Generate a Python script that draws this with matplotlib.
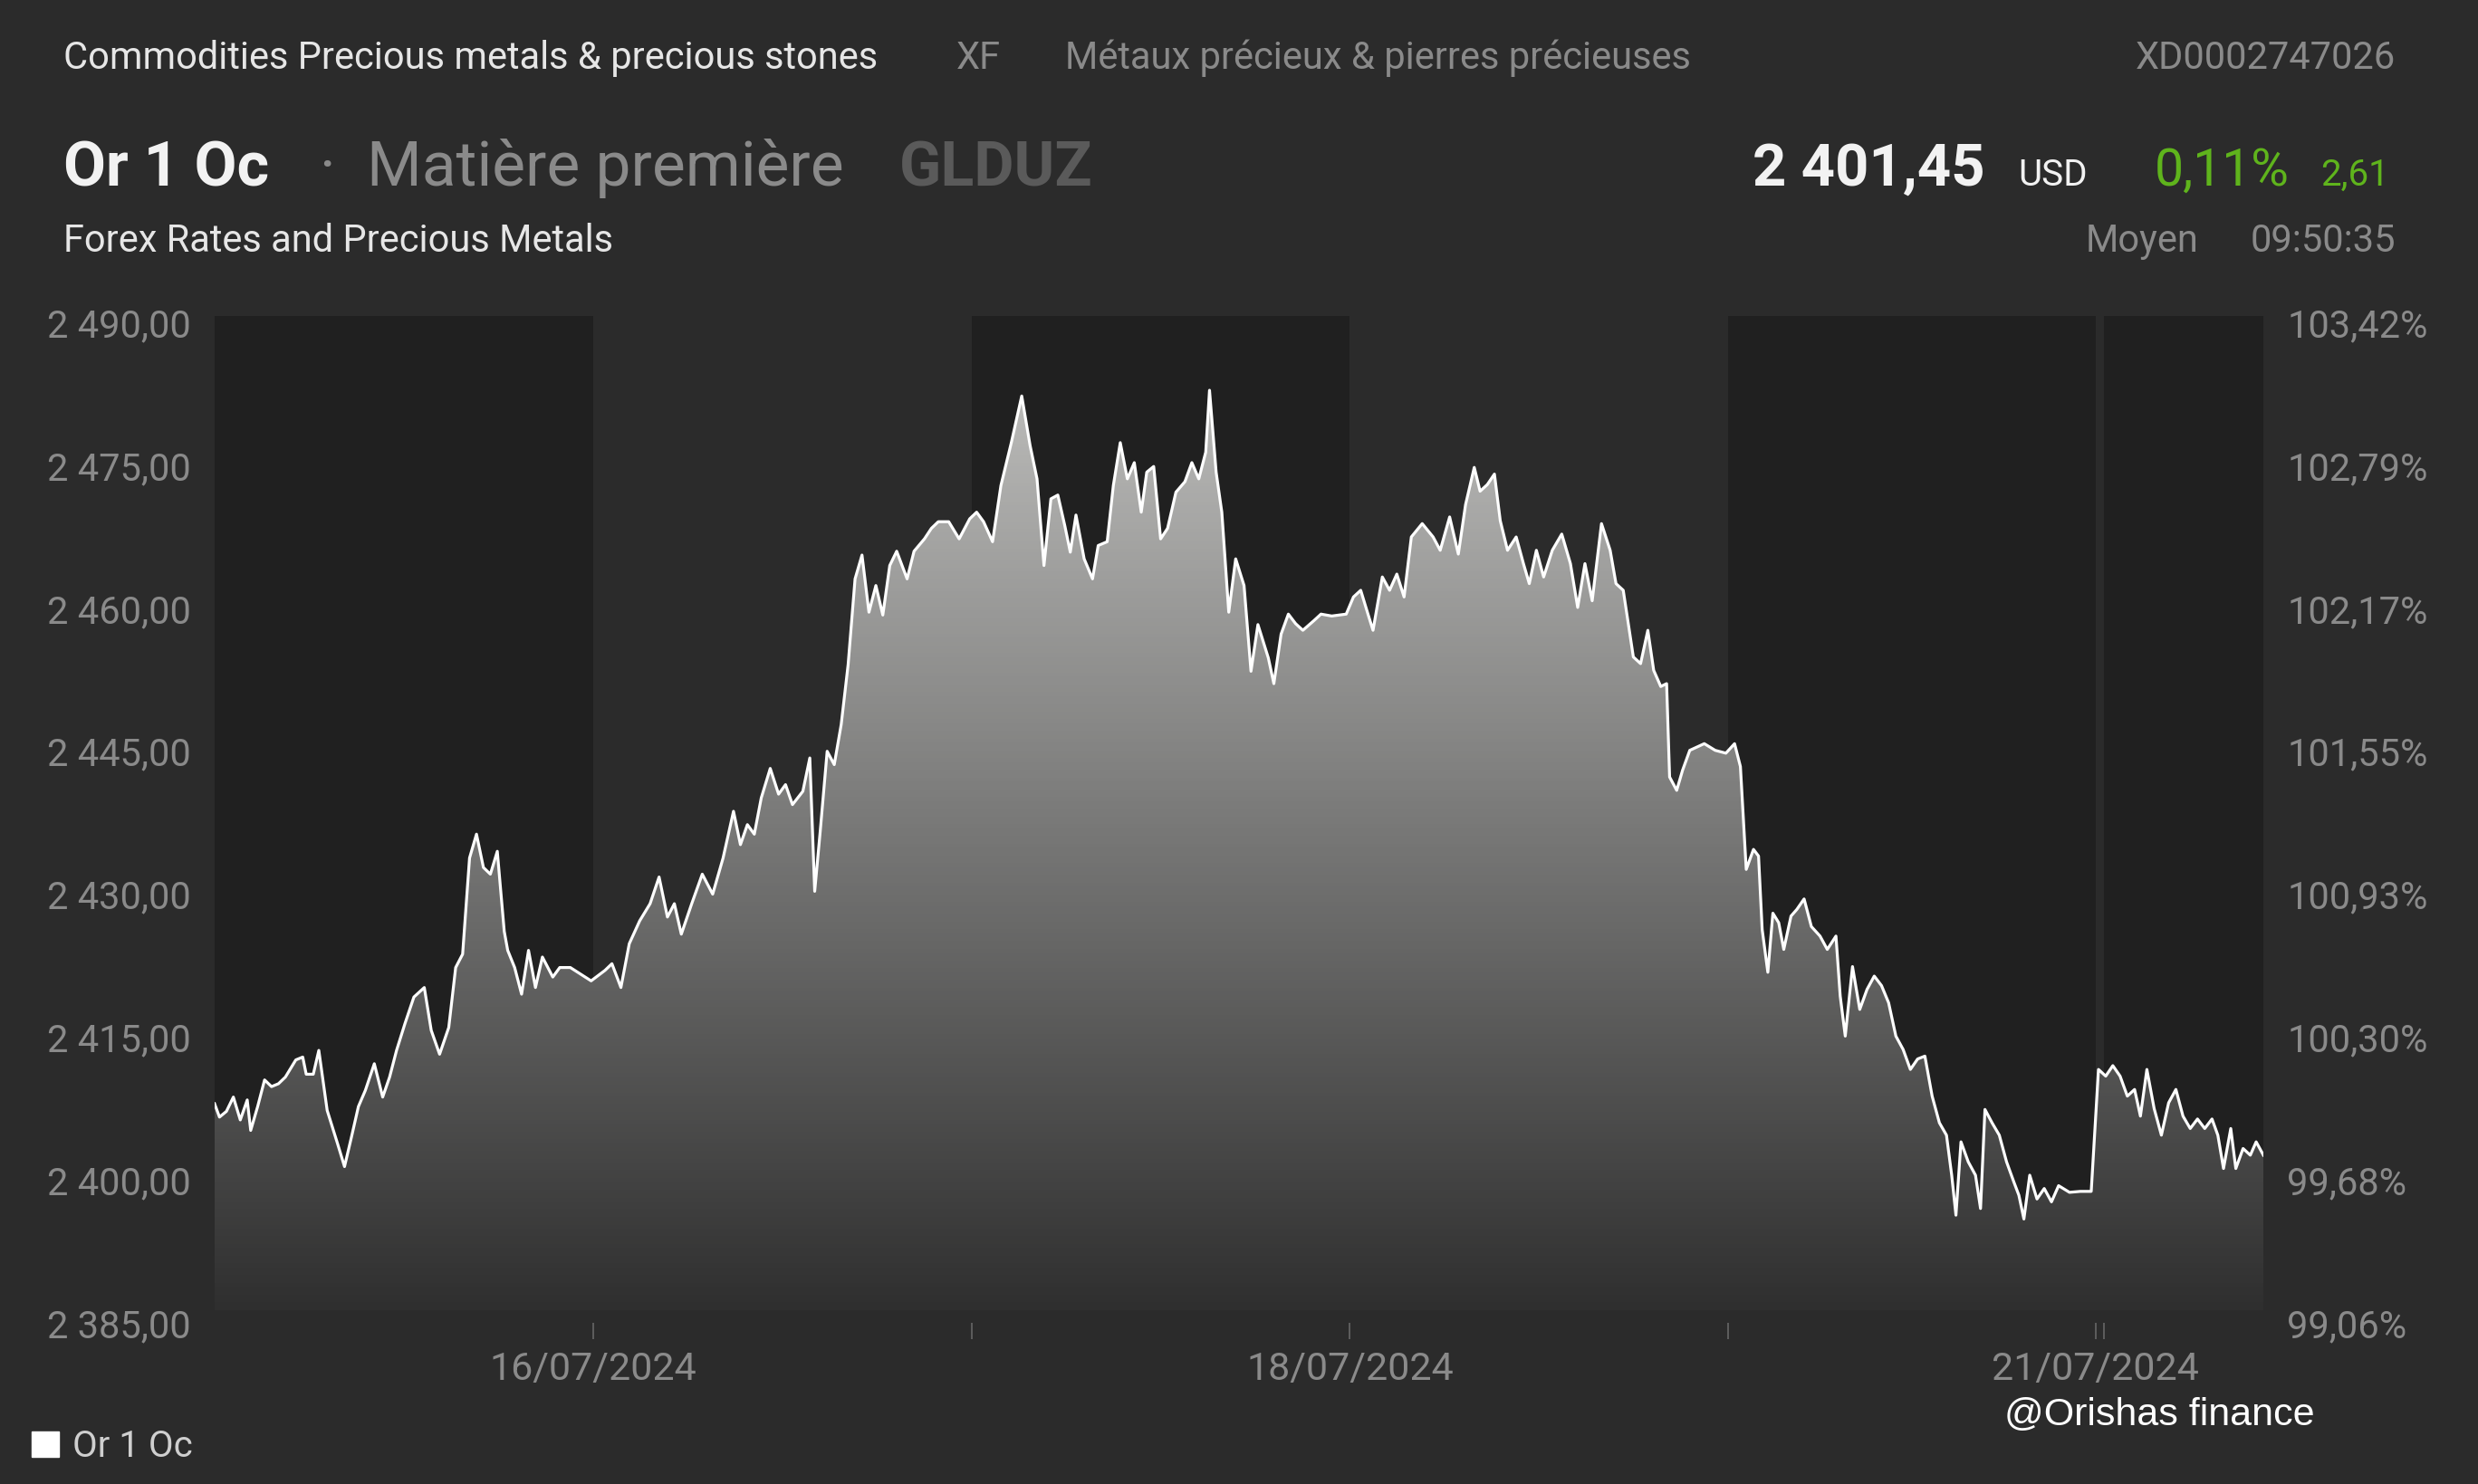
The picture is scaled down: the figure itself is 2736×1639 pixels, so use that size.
import numpy as np
import matplotlib.pyplot as plt
from matplotlib.colors import LinearSegmentedColormap
from matplotlib.patches import Rectangle

plt.rcParams['font.family'] = ['Roboto', 'DejaVu Sans']

# données : heures de cotation depuis le 15/07/2024 00:00 (week-end compressé)
hours = [0.00, 0.31, 0.75, 1.19, 1.63, 2.07, 2.29, 2.73, 3.17, 3.61, 4.05, 4.49, 5.15, 5.59, 5.81,
         6.26, 6.61, 7.14, 7.80, 8.24, 8.68, 9.12, 9.56, 10.13, 10.66, 11.10, 11.54, 12.07, 12.64,
         13.30, 13.74, 14.27, 14.85, 15.29, 15.73, 16.17, 16.61, 17.05, 17.49, 17.93, 18.37, 18.59,
         19.03, 19.47, 19.91, 20.35, 20.79, 21.45, 21.89, 22.56, 23.22, 23.88, 24.76, 25.20, 25.77,
         26.30, 26.96, 27.62, 28.19, 28.72, 29.16, 29.60, 30.26, 30.93, 31.59, 32.25, 32.91, 33.35,
         33.79, 34.23, 34.67, 35.24, 35.77, 36.21, 36.65, 37.31, 37.75, 38.06, 38.41, 38.85, 39.30,
         39.74, 40.18, 40.62, 41.06, 41.50, 41.94, 42.38, 42.82, 43.26, 43.92, 44.36, 45.02, 45.46,
         45.90, 46.56, 47.22, 47.89, 48.33, 48.77, 49.34, 49.87, 50.53, 51.19, 51.72, 52.16, 52.60,
         53.04, 53.48, 53.92, 54.27, 54.63, 55.15, 55.68, 56.04, 56.61, 57.00, 57.44, 57.89, 58.33,
         58.77, 59.12, 59.56, 60.00, 60.44, 60.97, 61.54, 61.98, 62.42, 62.86, 63.10, 63.52, 63.88,
         64.32, 64.76, 65.29, 65.73, 66.17, 66.83,
         67.18, 67.64, 68.10, 68.56, 69.02, 69.71, 70.17, 70.85, 71.77, 72.23, 72.69, 73.15, 73.47,
         74.06, 74.52, 74.98, 75.44, 75.90, 76.59, 77.28, 77.73, 78.33, 78.88, 79.34, 79.89, 80.26,
         80.72, 81.17, 81.54, 82.00, 82.55, 83.01, 83.38, 83.83, 84.29, 84.84, 85.44, 85.99, 86.45,
         86.91, 87.37, 87.96, 88.51, 88.88, 89.34, 89.98, 90.44, 90.90, 91.27, 91.72, 92.09, 92.28,
         92.73, 93.10, 93.56, 94.48, 95.17, 95.85, 96.40, 96.77, 97.14, 97.60, 97.92, 98.15, 98.51,
         98.83, 99.20, 99.52, 99.98, 100.35, 100.81, 101.27, 101.82, 102.28, 102.83, 103.10, 103.42,
         103.88, 104.34, 104.80, 105.26, 105.72, 106.17, 106.63, 107.09, 107.55, 108.01, 108.47,
         108.93, 109.39, 109.84, 110.17, 110.44, 110.76, 111.22, 111.68, 112.00, 112.28, 112.73,
         113.19, 113.65, 114.11, 114.43, 114.75, 115.12, 115.58, 116.04, 116.50, 116.95, 117.64,
         118.33, 119.02, 119.48, 119.94, 120.39, 120.85, 121.31, 121.77, 122.14, 122.55, 123.01,
         123.47, 123.93, 124.39, 124.84, 125.30, 125.76, 126.22, 126.68, 127.05, 127.41, 127.87,
         128.19, 128.65, 129.11, 129.48, 129.94]

prices = [2408.0, 2406.6, 2407.2, 2408.7, 2406.3, 2408.4, 2405.2, 2407.7, 2410.5, 2409.8, 2410.1,
          2410.8, 2412.6, 2412.9, 2411.1, 2411.1, 2413.6, 2407.3, 2403.8, 2401.4, 2404.5, 2407.7,
          2409.4, 2412.2, 2408.7, 2410.8, 2413.6, 2416.4, 2419.2, 2420.2, 2415.7, 2413.2, 2416.0,
          2422.3, 2423.7, 2433.8, 2436.3, 2432.8, 2432.1, 2434.5, 2426.1, 2424.1, 2422.3, 2419.5,
          2424.1, 2420.2, 2423.4, 2421.3, 2422.3, 2422.3, 2421.6, 2420.9, 2422.0, 2422.7, 2420.2,
          2424.8, 2427.2, 2429.0, 2431.8, 2427.6, 2429.0, 2425.8, 2429.0, 2432.1, 2430.0, 2433.8,
          2438.7, 2435.2, 2437.3, 2436.3, 2440.1, 2443.2, 2440.5, 2441.5, 2439.4, 2440.8, 2444.3,
          2430.3, 2436.6, 2445.0, 2443.6, 2447.8, 2454.1, 2463.1, 2465.6, 2459.6, 2462.4, 2459.3,
          2464.5, 2466.0, 2463.1, 2466.0, 2467.3, 2468.4, 2469.1, 2469.1, 2467.3, 2469.4, 2470.1,
          2469.1, 2467.0, 2472.9, 2477.4, 2482.3, 2477.1, 2473.6, 2464.5, 2471.5, 2471.9, 2468.7,
          2465.9, 2469.8, 2465.2, 2463.1, 2466.6, 2467.0, 2472.9, 2477.4, 2473.6, 2475.3, 2470.1,
          2474.3, 2474.9, 2467.3, 2468.4, 2472.2, 2473.3, 2475.3, 2473.6, 2476.4, 2482.9, 2474.3,
          2470.1, 2459.6, 2465.2, 2462.4, 2453.4, 2458.3, 2454.8,
          2452.1, 2457.3, 2459.4, 2458.4, 2457.7, 2458.7, 2459.4, 2459.2, 2459.4, 2461.2, 2461.9,
          2459.4, 2457.7, 2463.3, 2461.9, 2463.6, 2461.2, 2467.5, 2468.9, 2467.5, 2466.1, 2469.6,
          2465.7, 2470.9, 2474.8, 2472.3, 2473.0, 2474.1, 2469.2, 2466.1, 2467.5, 2464.7, 2462.6,
          2466.1, 2463.3, 2466.1, 2467.8, 2464.7, 2460.1, 2464.7, 2460.8, 2468.9, 2466.1, 2462.6,
          2461.9, 2454.9, 2454.2, 2457.7, 2453.5, 2451.8, 2452.1, 2442.3, 2440.9, 2443.0, 2445.1,
          2445.8, 2445.1, 2444.8, 2445.8, 2443.4, 2432.6, 2434.7, 2434.0, 2426.3, 2421.8, 2428.0,
          2427.0, 2424.2, 2427.7, 2428.4, 2429.5, 2426.6, 2425.6, 2424.2, 2425.6, 2419.3, 2415.1,
          2422.4, 2417.9, 2420.0, 2421.4, 2420.4, 2418.6, 2415.1, 2413.7, 2411.6, 2412.7, 2413.0,
          2408.8, 2406.0, 2404.7, 2400.5, 2396.3, 2404.0, 2401.9, 2400.5, 2397.0, 2407.4, 2406.0,
          2404.7, 2401.9, 2399.8, 2398.4, 2395.9, 2400.5, 2398.0, 2399.1, 2397.7, 2399.4, 2398.7,
          2398.8, 2398.8, 2411.6, 2410.9, 2412.0, 2410.9, 2408.8, 2409.5, 2406.7, 2411.6, 2407.5,
          2404.7, 2408.1, 2409.5, 2406.7, 2405.4, 2406.4, 2405.4, 2406.4, 2404.7, 2401.2, 2405.4,
          2401.2, 2403.3, 2402.6, 2404.0, 2402.6]

# débuts de séance (heures) et bandes sombres
day_starts = [0, 24, 48, 72, 96, 119.3, 119.8]
dark_days = [True, False, True, False, True, False, True]
x_end = 129.94
x_labels = {24: '16/07/2024', 72: '18/07/2024', 119.3: '21/07/2024'}

y_ticks = [2385, 2400, 2415, 2430, 2445, 2460, 2475, 2490]
y_labels_left = ['2 385,00', '2 400,00', '2 415,00', '2 430,00', '2 445,00', '2 460,00',
                 '2 475,00', '2 490,00']
y_labels_right = ['99,06%', '99,68%', '100,30%', '100,93%', '101,55%', '102,17%',
                  '102,79%', '103,42%']

BG = '#2b2b2b'
DARK = '#202020'
GREY = '#8a8a8a'
GREEN = '#5fb41c'
y_top = 2490.7
y_bot = 2386.3

fig = plt.figure(figsize=(27.36, 16.39), dpi=100, facecolor=BG)
ax = fig.add_axes([0.0866, 0.1086, 0.8268, 0.6785])
ax.set_facecolor(BG)
ax.set_xlim(0, x_end)
ax.set_ylim(2385, y_top)

# bandes des jours
edges = day_starts + [x_end]
for i, dark in enumerate(dark_days):
    if dark:
        ax.fill_between([edges[i], edges[i + 1]], y_bot, y_top, color=DARK, lw=0, zorder=1)

# remplissage en dégradé sous la courbe
poly = ax.fill_between(hours, prices, y_bot, facecolor='none', lw=0)
cmap = LinearSegmentedColormap.from_list('g', ['#2f2f2f', '#c6c6c4'])
grad = np.linspace(0, 1, 256).reshape(-1, 1)
im = ax.imshow(grad, extent=[0, x_end, y_bot, y_top], origin='lower', aspect='auto',
               cmap=cmap, zorder=2)
im.set_clip_path(poly.get_paths()[0], transform=ax.transData)

ax.plot(hours, prices, color='white', lw=2.3, zorder=3)

for s in ax.spines.values():
    s.set_visible(False)

ax.set_yticks(y_ticks)
ax.set_yticklabels(y_labels_left)
ax.tick_params(axis='y', length=0, pad=19, labelsize=30, labelcolor=GREY)
ax.set_xticks(day_starts[1:])
ax.set_xticklabels([x_labels.get(d, '') for d in day_starts[1:]])
ax.tick_params(axis='x', length=13, width=1.2, color='#666666', pad=9,
               labelsize=31, labelcolor=GREY)

ax2 = ax.twinx()
ax2.set_ylim(ax.get_ylim())
ax2.set_yticks(y_ticks)
ax2.set_yticklabels(y_labels_right)
ax2.tick_params(axis='y', length=0, pad=19, labelsize=30, labelcolor=GREY)
for s in ax2.spines.values():
    s.set_visible(False)

# en-tête
W, H = 2736, 1639
def fx(px):
    return px / W
def fy(py):
    return 1 - py / H

fig.text(fx(70), fy(76), 'Commodities Precious metals & precious stones', fontsize=30,
         color='#e6e6e6', va='baseline')
fig.text(fx(1056), fy(76), 'XF', fontsize=30, color=GREY, va='baseline')
fig.text(fx(1176), fy(76), 'Métaux précieux & pierres précieuses', fontsize=30,
         color=GREY, va='baseline')
fig.text(fx(2645), fy(76), 'XD0002747026', fontsize=30, color=GREY, va='baseline', ha='right')

fig.text(fx(70), fy(205), 'Or 1 Oc', fontsize=49, fontweight='bold', color='#f2f2f2',
         va='baseline')
fig.text(fx(352), fy(205), '·', fontsize=49, color=GREY, va='baseline')
fig.text(fx(405), fy(205), 'Matière première', fontsize=50, color=GREY, va='baseline')
fig.text(fx(993), fy(205), 'GLDUZ', fontsize=49, fontweight='bold', color='#5a5a5a',
         va='baseline')
fig.text(fx(2192), fy(205), '2 401,45', fontsize=47, fontweight='bold', color='#f2f2f2',
         va='baseline', ha='right')
fig.text(fx(2228), fy(205), 'USD', fontsize=29, color='#f2f2f2', va='baseline')
fig.text(fx(2528), fy(205), '0,11%', fontsize=41, color=GREEN, va='baseline', ha='right')
fig.text(fx(2638), fy(205), '2,61', fontsize=29, color=GREEN, va='baseline', ha='right')

fig.text(fx(70), fy(278), 'Forex Rates and Precious Metals', fontsize=30, color='#e6e6e6',
         va='baseline')
fig.text(fx(2303), fy(278), 'Moyen', fontsize=30, color=GREY, va='baseline')
fig.text(fx(2645), fy(278), '09:50:35', fontsize=30, color=GREY, va='baseline', ha='right')

# légende et signature
fig.add_artist(Rectangle((fx(35), fy(1609)), 30 / W, 28 / H, transform=fig.transFigure,
                         color='white'))
fig.text(fx(80), fy(1609), 'Or 1 Oc', fontsize=29, color='#cfcfcf', va='baseline')
fig.text(fx(2213), fy(1574), '@Orishas finance', fontsize=31, color='white', va='baseline',
         family='Liberation Sans')

fig.savefig('out.png', dpi=100, facecolor=BG)
